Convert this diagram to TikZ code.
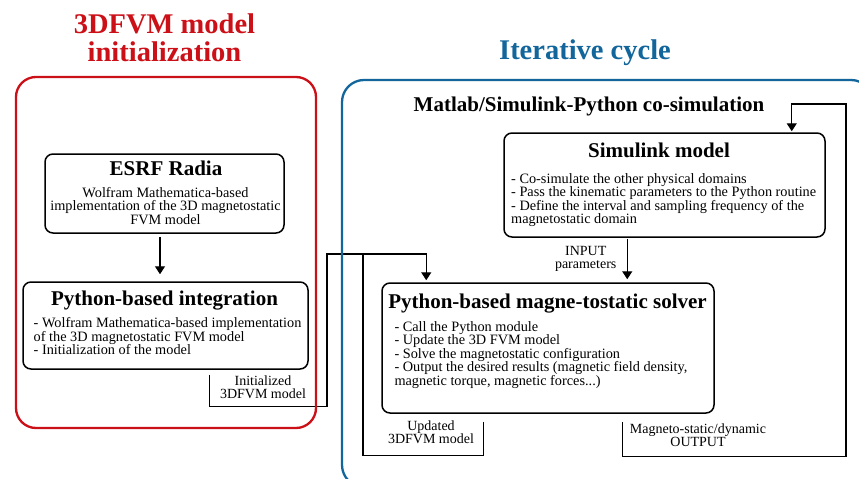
\documentclass[tikz,border=0pt]{standalone}
\usepackage{fontspec}
\setmainfont{Liberation Serif}
\usetikzlibrary{arrows.meta,calc}
\definecolor{frred}{RGB}{204,16,24}
\definecolor{frblue}{RGB}{18,102,156}
\begin{document}
\begin{tikzpicture}[x=1pt,y=-1pt,
  box/.style={draw=black,line width=1.5pt,rounded corners=8pt,inner sep=0pt},
  redframe/.style={draw=frred,line width=2.3pt,rounded corners=20pt,inner sep=0pt},
  blueframe/.style={draw=frblue,line width=2.3pt,rounded corners=22pt,inner sep=0pt},
  bigtitle/.style={font=\bfseries\fontsize{28.5}{27.7}\selectfont,inner sep=0pt,anchor=base},
  boxtitle/.style={font=\bfseries\fontsize{21}{24}\selectfont,inner sep=0pt,anchor=base},
  bodytxt/.style={font=\fontsize{14.3}{13.4}\selectfont,inner sep=0pt,align=left,anchor=north west},
  lbl/.style={font=\fontsize{14}{13}\selectfont,inner sep=0pt,align=center,anchor=north},
  conn/.style={line width=1.3pt},
  arr/.style={line width=1.3pt,-{Triangle[width=10pt,length=8pt]}}]
\useasboundingbox (0,0) rectangle (859,479);
\fill[white] (0,0) rectangle (859,479);
\clip (0,0) rectangle (859,479);

% titles
\node[bigtitle,text=frred,align=center,anchor=north] (t1) at (164.5,13.8) {3DFVM model\\initialization};
\node[bigtitle,text=frblue] (t2) at (585,59.5) {Iterative cycle};
\node[boxtitle] (t3) at (589,111.5) {Matlab/Simulink-Python co-simulation};

% ESRF Radia
\node[box,minimum width=239pt,minimum height=79pt] (esrf) at (164.5,193.5) {};
\node[boxtitle] (esrft) at (166,175.7) {ESRF Radia};
\node[bodytxt,align=center,anchor=north] (esrfb) at (165.5,187.1) {Wolfram Mathematica-based\\implementation of the 3D magnetostatic\\FVM model};

% Python-based integration
\node[box,minimum width=285pt,minimum height=87pt] (pyint) at (165.5,325.5) {};
\node[boxtitle] (pyintt) at (164.5,305) {Python-based integration};
\node[bodytxt] (pyintb) at (33.5,317.7) {- Wolfram Mathematica-based implementation\\of the 3D magnetostatic FVM model\\- Initialization of the model};

% solver
\node[box,minimum width=332pt,minimum height=130pt] (solver) at (548,348) {};
\node[boxtitle] (solvert) at (547.5,308.3) {Python-based magne-tostatic solver};
\node[bodytxt] (solverb) at (394.3,321.4) {- Call the Python module\\- Update the 3D FVM model\\- Solve the magnetostatic configuration\\- Output the desired results (magnetic field density,\\magnetic torque, magnetic forces...)};

% Simulink
\node[box,minimum width=321pt,minimum height=104pt] (simu) at (664.5,185) {};
\node[boxtitle] (simut) at (659,157.3) {Simulink model};
\node[bodytxt] (simub) at (511,173.4) {- Co-simulate the other physical domains\\- Pass the kinematic parameters to the Python routine\\- Define the interval and sampling frequency of the\\magnetostatic domain};

% labels
\node[lbl] (inlbl) at (585.7,245.7) {INPUT\\parameters};
\node[lbl] (initlbl) at (263,375.4) {Initialized\\3DFVM model};
\node[lbl] (updlbl) at (431,420.4) {Updated\\3DFVM model};
\node[lbl] (outlbl) at (698,423.7) {Magneto-static/dynamic\\OUTPUT};

% connectors
\coordinate (j1) at (327,254);
\coordinate (j2) at (363,254);
\coordinate (loopc) at (846,104);

\draw[arr] ($(esrf.south)+(-4.5,3)$) -- ($(pyint.north)+(-5.5,-7)$);
\draw[arr] ($(pyint.south west)+(187,5)$) -- ++(0,32) -| (j1) -| ($(solver.north west)+(45,-2)$);
\draw[conn] ($(solver.south west)+(102,8)$) -- ++(0,34) -| (j2);
\draw[arr] ($(solver.south west)+(241,8)$) -- ++(0,35) -| (loopc) -| ($(simu.north east)+(-34,-1)$);
\draw[arr] ($(simu.south west)+(124,1)$) -- ($(solver.north west)+(246,-3)$);

% frames
\node[redframe,minimum width=300pt,minimum height=351pt] (initframe) at (166,252.5) {};
\node[blueframe,minimum width=531pt,minimum height=407pt] (iterframe) at (607.5,283.5) {};
\end{tikzpicture}
\end{document}
